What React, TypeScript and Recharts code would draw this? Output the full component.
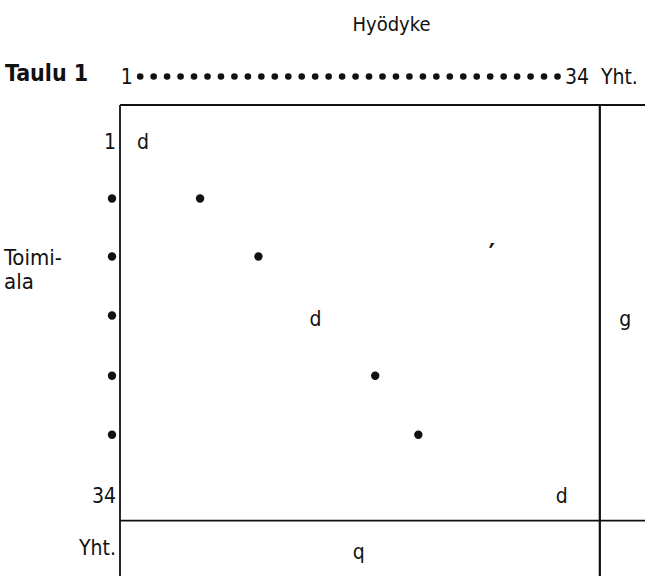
import { ReferenceLine, Scatter, ScatterChart, XAxis, YAxis } from "recharts";

const FONT = "'DejaVu Sans Condensed', 'Liberation Sans Narrow', 'DejaVu Sans', sans-serif";
const INK = "#111";

// header row: commodities 1..34 and the total column
const commodityTicks = [
  1, 2, 3, 4, 5, 6, 7, 8, 9, 10, 11, 12, 13, 14, 15, 16, 17, 18, 19, 20, 21, 22, 23, 24, 25, 26,
  27, 28, 29, 30, 31, 32, 33, 34, 37.6,
];
const commodityLabels = commodityTicks.map((v, i) =>
  i === 0 ? "1" : v === 34 ? "34" : v > 34 ? "Yht." : "•"
);

// industry rows shown on the left
const industryTicks = [1, 6.3, 11.7, 17.2, 22.8, 28.3, 34, 38.8];
const industryLabels = ["1", "•", "•", "•", "•", "•", "34", "Yht."];

// diagonal markers inside the table
const diagonalPoints = [
  { col: 5.5, row: 6.3 },
  { col: 10.1, row: 11.7 },
  { col: 19.3, row: 22.8 },
  { col: 22.7, row: 28.3 },
];

// letters written in the cells
const cellLabels = [
  { col: 1, row: 1, label: "d" },
  { col: 14.6, row: 17.5, label: "d" },
  { col: 34, row: 34, label: "d" },
  { col: 39, row: 17.5, label: "g" },
  { col: 18, row: 39.2, label: "q" },
  { col: 28.5, row: 11.6, label: "′" },
];

const totalCol = 37;
const totalRow = 36.3;

// header axis needs something bound to it, otherwise it gets no ticks
const headerRow = commodityTicks.map((v) => ({ col: v, row: 1 }));

function HeadTick(props: any) {
  const { x, y, payload } = props;
  const label = commodityLabels[commodityTicks.indexOf(payload.value)];
  if (label === "•") return <circle cx={x} cy={y - 7.5} r={3.3} fill={INK} />;
  const last = label === "34";
  return (
    <text
      x={last ? x - 6 : x}
      y={y}
      textAnchor={last ? "start" : "middle"}
      fontSize={21}
      fontFamily={FONT}
      fill={INK}
    >
      {label}
    </text>
  );
}

function RowTick(props: any) {
  const { x, y, payload } = props;
  const label = industryLabels[industryTicks.indexOf(payload.value)];
  if (label === "•") return <circle cx={x - 4} cy={y} r={4.2} fill={INK} />;
  return (
    <text x={x} y={y + 7.5} textAnchor="end" fontSize={21} fontFamily={FONT} fill={INK}>
      {label}
    </text>
  );
}

const CellText = (props: any) => {
  const mark = props.payload.label === "′";
  return (
    <text
      x={props.cx}
      y={props.cy + 7.5}
      textAnchor="middle"
      fontSize={mark ? 26 : 21}
      fontWeight={mark ? "bold" : "normal"}
      fontFamily={FONT}
      fill={INK}
    >
      {props.payload.label}
    </text>
  );
};

const Dot = (props: any) => <circle cx={props.cx} cy={props.cy} r={4.2} fill={INK} />;
const Nothing = () => <g />;

export default function App() {
  return (
    <div
      style={{
        position: "absolute",
        left: 0,
        top: 0,
        width: 645,
        height: 576,
        background: "#fff",
        fontFamily: FONT,
        color: INK,
      }}
    >
      <div
        style={{
          position: "absolute",
          left: 0,
          width: 645,
          top: 12,
          textAlign: "center",
          fontSize: 20,
          paddingLeft: 138,
          boxSizing: "border-box",
        }}
      >
        Hyödyke
      </div>
      <div style={{ position: "absolute", left: 5, top: 60, fontSize: 23, fontWeight: "bold" }}>
        Taulu 1
      </div>
      <div style={{ position: "absolute", left: 4, top: 246, fontSize: 22, lineHeight: "24px" }}>
        Toimi-
        <br />
        ala
      </div>
      <ScatterChart width={645} height={576} margin={{ top: 0, right: 0, bottom: 0, left: 0 }}>
        <XAxis
          xAxisId="head"
          type="number"
          dataKey="col"
          orientation="top"
          domain={[0.5, 39.5]}
          ticks={commodityTicks}
          interval={0}
          allowDataOverflow
          height={105}
          tickSize={0}
          tickMargin={21}
          tickLine={false}
          axisLine={{ stroke: INK, strokeWidth: 1.8 }}
          tick={HeadTick}
        />
        <XAxis
          xAxisId="cell"
          type="number"
          dataKey="col"
          orientation="bottom"
          domain={[-0.81, 40.56]}
          allowDataOverflow
          hide
        />
        <YAxis
          type="number"
          dataKey="row"
          domain={[-2.4, 41.45]}
          reversed
          ticks={industryTicks}
          interval={0}
          allowDataOverflow
          width={120}
          tickSize={0}
          tickMargin={4}
          tickLine={false}
          axisLine={{ stroke: INK, strokeWidth: 1.8 }}
          tick={RowTick}
        />
        <ReferenceLine xAxisId="cell" x={totalCol} stroke={INK} strokeWidth={2.2} />
        <ReferenceLine xAxisId="cell" y={totalRow} stroke={INK} strokeWidth={1.8} />
        <Scatter xAxisId="head" data={headerRow} shape={Nothing} isAnimationActive={false} />
        <Scatter xAxisId="cell" data={diagonalPoints} shape={Dot} isAnimationActive={false} />
        <Scatter xAxisId="cell" data={cellLabels} shape={CellText} isAnimationActive={false} />
      </ScatterChart>
    </div>
  );
}
